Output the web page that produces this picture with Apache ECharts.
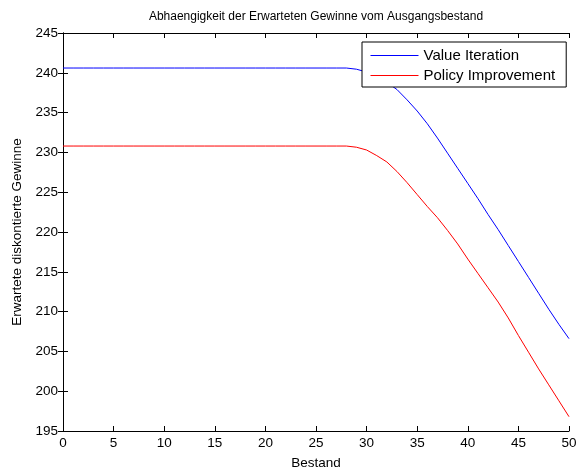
<!DOCTYPE html>
<html><head><meta charset="utf-8">
<script src="https://cdn.jsdelivr.net/npm/echarts@6/dist/echarts.min.js"></script>
<style>html,body{margin:0;padding:0;background:#fff;overflow:hidden}#c{width:578px;height:471px}</style>
</head><body><div id="c"></div>
<script>
var bestand = [0,1,2,3,4,5,6,7,8,9,10,11,12,13,14,15,16,17,18,19,20,21,22,23,24,25,26,27,28,29,30,31,32,33,34,35,36,37,38,39,40,41,42,43,44,45,46,47,48,49,50];
var valueIteration = [240.6,240.6,240.6,240.6,240.6,240.6,240.6,240.6,240.6,240.6,240.6,240.6,240.6,240.6,240.6,240.6,240.6,240.6,240.6,240.6,240.6,240.6,240.6,240.6,240.6,240.6,240.6,240.6,240.6,240.45,240.1,239.6,238.8,237.9,236.6,235.2,233.6,231.8,229.9,228.0,226.1,224.2,222.2,220.3,218.3,216.3,214.3,212.3,210.3,208.4,206.6];
var policyImprovement = [230.8,230.8,230.8,230.8,230.8,230.8,230.8,230.8,230.8,230.8,230.8,230.8,230.8,230.8,230.8,230.8,230.8,230.8,230.8,230.8,230.8,230.8,230.8,230.8,230.8,230.8,230.8,230.8,230.8,230.65,230.3,229.6,228.8,227.6,226.2,224.7,223.2,221.8,220.2,218.5,216.6,214.8,213.0,211.2,209.2,207.0,204.9,202.8,200.8,198.8,196.8];
var xTicks = {min:0, max:50, step:5};
var yTicks = {min:195, max:245, step:5};
var seriesNames = ['Value Iteration','Policy Improvement'];
var seriesColors = ['#0000ff','#ff0000'];
var titleText = 'Abhaengigkeit der Erwarteten Gewinne vom Ausgangsbestand';
var xName = 'Bestand';
var yName = 'Erwartete diskontierte Gewinne';

var font = 'Liberation Sans, Arial, sans-serif';
function pairs(xs, ys){ return xs.map(function(x,i){return [x, ys[i]];}); }
var axLine = {show:true, lineStyle:{color:'#000', width:1}};
var tick = {show:true, inside:true, length:5, lineStyle:{color:'#000'}};
var chart = echarts.init(document.getElementById('c'), null, {renderer:'canvas'});
chart.setOption({
  animation:false,
  backgroundColor:'#fff',
  color:seriesColors,
  textStyle:{fontFamily:font},
  title:{text:titleText, left:311, top:6, textAlign:'center',
    textStyle:{fontFamily:font, fontSize:12, fontWeight:'normal', color:'#000'}},
  grid:{left:63, top:33, width:506, height:398, containLabel:false, outerBoundsMode:'none'},
  legend:{orient:'vertical', left:362, top:42, padding:[6,11,4,8],
    borderColor:'#000', borderWidth:1, backgroundColor:'#fff', itemGap:5,
    itemWidth:48, itemHeight:16,
    itemStyle:{color:'rgba(0,0,0,0)', borderWidth:0},
    lineStyle:{width:1},
    data:seriesNames,
    textStyle:{fontFamily:font, fontSize:15, color:'#000'}},
  xAxis:[
    {type:'value', min:xTicks.min, max:xTicks.max, interval:xTicks.step, position:'bottom',
     name:xName, nameLocation:'middle', nameGap:25,
     nameTextStyle:{fontFamily:font, fontSize:13.5, color:'#000'},
     axisLine:axLine, axisTick:tick,
     axisLabel:{fontFamily:font, fontSize:13.5, color:'#000', margin:5}, splitLine:{show:false}},
    {type:'value', min:xTicks.min, max:xTicks.max, interval:xTicks.step, position:'top',
     axisLine:axLine, axisTick:tick, axisLabel:{show:false}, splitLine:{show:false}}
  ],
  yAxis:[
    {type:'value', min:yTicks.min, max:yTicks.max, interval:yTicks.step, position:'left',
     name:yName, nameLocation:'middle', nameGap:38, nameRotate:90,
     nameTextStyle:{fontFamily:font, fontSize:13.5, color:'#000'},
     axisLine:axLine, axisTick:tick,
     axisLabel:{fontFamily:font, fontSize:13.5, color:'#000', margin:5}, splitLine:{show:false}},
    {type:'value', min:yTicks.min, max:yTicks.max, interval:yTicks.step, position:'right',
     axisLine:axLine, axisTick:tick, axisLabel:{show:false}, splitLine:{show:false}}
  ],
  series:[
    {name:seriesNames[0], type:'line', data:pairs(bestand, valueIteration), symbol:'none',
     lineStyle:{color:seriesColors[0], width:1}, itemStyle:{color:seriesColors[0]}, z:2},
    {name:seriesNames[1], type:'line', data:pairs(bestand, policyImprovement), symbol:'none',
     lineStyle:{color:seriesColors[1], width:1}, itemStyle:{color:seriesColors[1]}, z:2}
  ]
});
</script></body></html>
